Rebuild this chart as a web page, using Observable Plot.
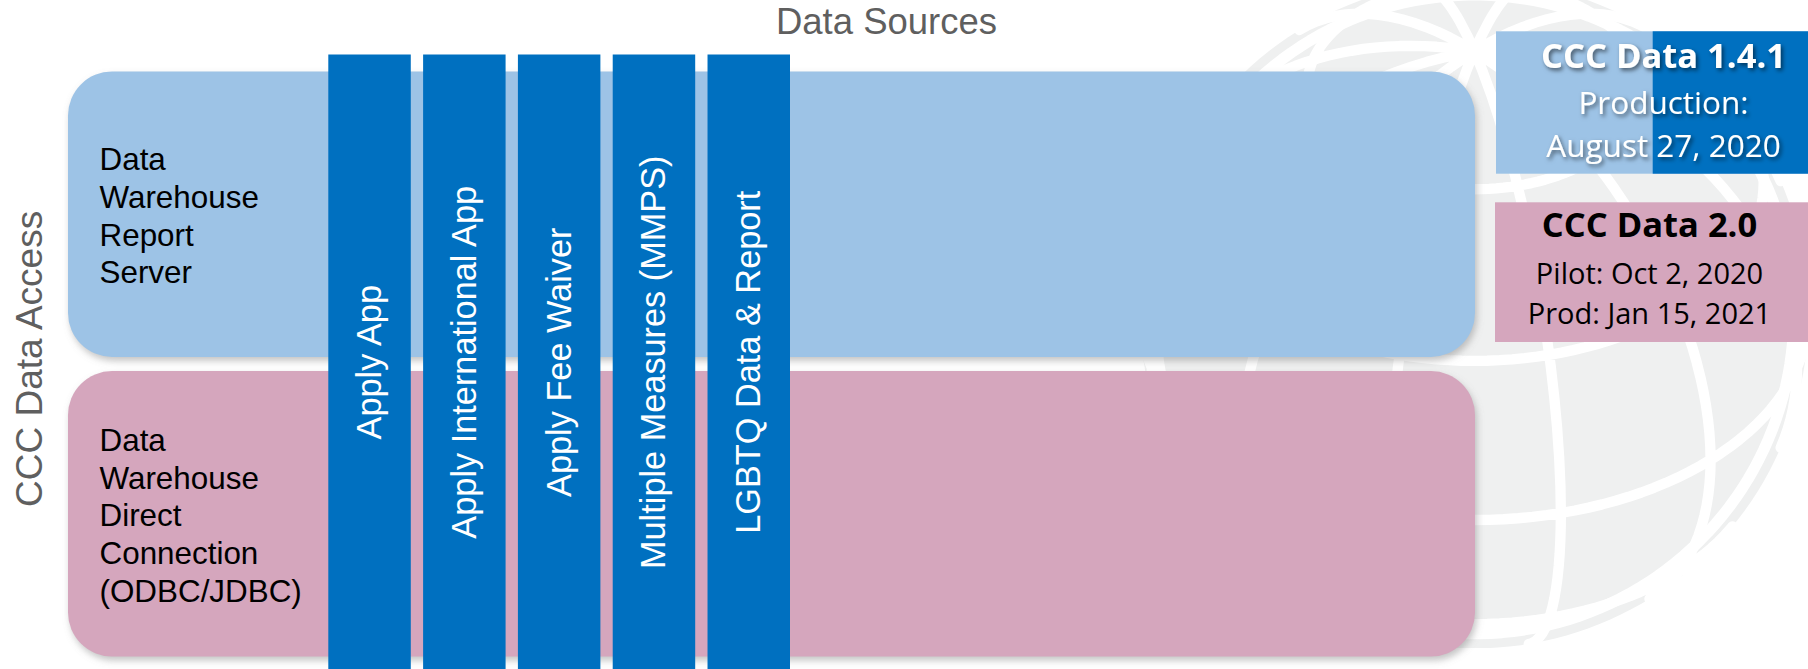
<!DOCTYPE html>
<html>
<head>
<meta charset="utf-8">
<script src="https://cdn.jsdelivr.net/npm/d3@7"></script>
<script src="https://cdn.jsdelivr.net/npm/@observablehq/plot@0.6"></script>
<style>
  html, body { margin: 0; padding: 0; background: #ffffff; }
  #wrap { position: relative; width: 1808px; height: 669px; overflow: hidden; background: #ffffff; }
  #globe { position: absolute; left: 1140px; top: -20px; }
  #main { position: absolute; left: 0; top: 0; }
</style>
</head>
<body>
<div id="wrap"><div id="globe"></div><div id="main"></div></div>
<script>
// ---------- data ----------
const sourcesTitle = "Data Sources";
const accessTitle = "CCC Data Access";
const sources = [
  "Apply App",
  "Apply International App",
  "Apply Fee Waiver",
  "Multiple Measures (MMPS)",
  "LGBTQ Data & Report"
];
const accessLayers = [
  "Data\nWarehouse\nReport\nServer",
  "Data\nWarehouse\nDirect\nConnection\n(ODBC/JDBC)"
];
const releaseTitles = ["CCC Data 1.4.1", "CCC Data 2.0"];
const releaseDates = ["Production:\nAugust 27, 2020", "Pilot: Oct 2, 2020\nProd: Jan 15, 2021"];

// ---------- layout & style ----------
const W = 1808, H = 669;
const ARIAL = "'Liberation Sans', Arial, Helvetica, sans-serif";
const SANS = "'Open Sans', 'Noto Sans', sans-serif";
const C = { dark: "#0070c0", light: "#9dc3e6", pink: "#d5a6bd", gray: "#5f5f5f", globe: "#eff0f0" };

const band = d3.scaleBand().domain(sources).range([328.3, 790]).paddingInner(0.13);
const rows = d3.scaleBand().domain(accessLayers).range([71.5, 656.5]).paddingInner(0.047);
const rowFill = [C.light, C.pink];
const panelX1 = 68, panelX2 = 1475, panelR = 44;
const barTop = 54.5, barBottom = H;

const boxes = [
  { x1: 1496, x2: W + 10, y1: 31.3, y2: 173.7, fill: C.light, split: 1652.7,
    cx: 1663, titleY: 67, titleSize: 34.5, datesY: 156.3, dateSize: 31.5, lh: 1.35, color: "#fffffe" },
  { x1: 1495, x2: W + 10, y1: 202.3, y2: 342, fill: C.pink, split: null,
    cx: 1649, titleY: 236.5, titleSize: 34.5, datesY: 323.3, dateSize: 29, lh: 1.38, color: "#000000" }
];

// ---------- background globe watermark ----------
const globeRotate = [-15, -38];
const globe = Plot.plot({
  width: 840, height: 840, margin: 0,
  projection: { type: "orthographic", rotate: globeRotate },
  style: { background: "transparent" },
  marks: [
    Plot.sphere({ fill: C.globe, stroke: "none" }),
    Plot.geo(d3.geoGraticule().step([30, 30])(), { stroke: "white", strokeWidth: 13 }),
    Plot.geo(d3.geoCircle().center([-globeRotate[0], -globeRotate[1]]).radius(73)(),
      { stroke: "white", strokeWidth: 14, fill: "none" })
  ]
});
document.getElementById("globe").appendChild(globe);

// ---------- main diagram ----------
const marks = [];

// panel shadows
marks.push(Plot.rect(accessLayers, {
  x1: panelX1, x2: panelX2,
  y1: d => rows(d), y2: d => rows(d) + rows.bandwidth(),
  rx: panelR, fill: "#7f7f7f", fillOpacity: 0.45, dx: 2, dy: 4
}));
// panels
marks.push(Plot.rect(accessLayers, {
  x1: panelX1, x2: panelX2,
  y1: d => rows(d), y2: d => rows(d) + rows.bandwidth(),
  rx: panelR, fill: (d, i) => rowFill[i]
}));
// panel labels
marks.push(Plot.text(accessLayers, {
  x: 99, y: d => rows(d) + rows.bandwidth() / 2, text: d => d,
  textAnchor: "start", lineAnchor: "middle", lineHeight: 1.2,
  fontSize: 31.4, fontFamily: ARIAL, fill: "#000000"
}));
// source bars
marks.push(Plot.rect(sources, {
  x1: d => band(d), x2: d => band(d) + band.bandwidth(),
  y1: barTop, y2: barBottom + 6, fill: C.dark
}));
marks.push(Plot.text(sources, {
  x: d => band(d) + band.bandwidth() / 2, y: (barTop + barBottom) / 2,
  text: d => d, rotate: -90, fontSize: 34.3, fontFamily: ARIAL, fill: "#ffffff"
}));
// titles
marks.push(Plot.text([sourcesTitle], {
  x: 886, y: 33.3, text: d => d, lineAnchor: "bottom",
  fontSize: 36.5, fontFamily: ARIAL, fill: C.gray
}));
marks.push(Plot.text([accessTitle], {
  x: 29.2, y: 358.4, text: d => d, rotate: -90,
  fontSize: 37, fontFamily: ARIAL, fill: C.gray
}));
// release boxes
boxes.forEach((b, i) => {
  marks.push(Plot.rect([releaseTitles[i]], { x1: b.x1, x2: b.x2, y1: b.y1, y2: b.y2, fill: b.fill }));
  if (b.split != null) {
    marks.push(Plot.rect([releaseTitles[i]], { x1: b.split, x2: b.x2, y1: b.y1, y2: b.y2, fill: C.dark }));
  }
  marks.push(Plot.text([releaseTitles[i]], {
    x: b.cx, y: b.titleY, text: d => d, lineAnchor: "bottom",
    fontSize: b.titleSize, fontWeight: "bold", fontFamily: SANS, fill: b.color
  }));
  marks.push(Plot.text([releaseDates[i]], {
    x: b.cx, y: b.datesY, text: d => d, lineAnchor: "bottom", lineHeight: b.lh,
    fontSize: b.dateSize, fontFamily: SANS, fill: b.color
  }));
});

const svg = Plot.plot({
  width: W, height: H, margin: 0,
  x: { domain: [0, W], range: [0, W], axis: null },
  y: { domain: [0, H], range: [0, H], axis: null },
  style: { background: "transparent", overflow: "visible" },
  marks
});

// soft shadows via SVG filters
const s = d3.select(svg);
const defs = s.insert("defs", ":first-child");
defs.append("filter").attr("id", "softShadow")
  .attr("x", "-5%").attr("y", "-5%").attr("width", "110%").attr("height", "115%")
  .append("feGaussianBlur").attr("stdDeviation", 3.5);
defs.append("filter").attr("id", "textShadow")
  .attr("x", "-10%").attr("y", "-20%").attr("width", "120%").attr("height", "150%")
  .append("feDropShadow").attr("dx", 2).attr("dy", 2.5).attr("stdDeviation", 2)
  .attr("flood-color", "#000").attr("flood-opacity", 0.55);
s.selectAll('g[aria-label="rect"][fill="#7f7f7f"]').attr("filter", "url(#softShadow)");
s.selectAll('g[aria-label="text"][fill="#fffffe"]').attr("filter", "url(#textShadow)");

document.getElementById("main").appendChild(svg);
</script>
</body>
</html>
